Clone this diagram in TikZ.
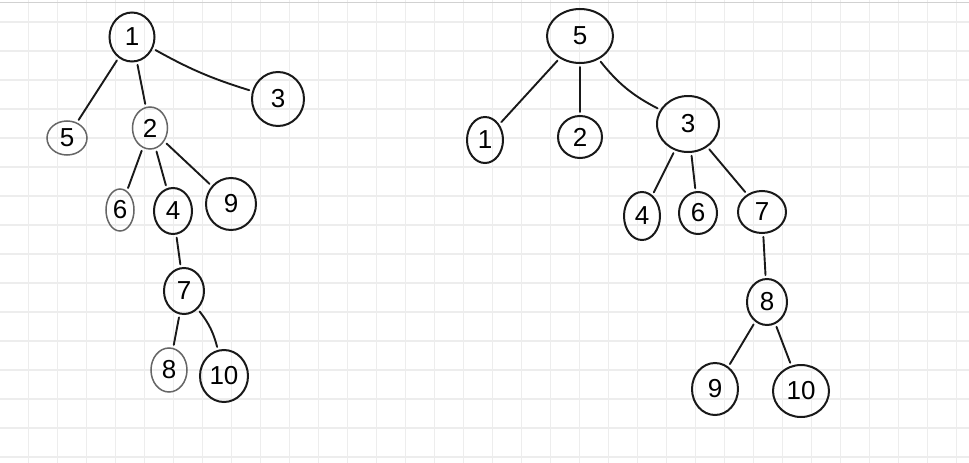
\documentclass[tikz,border=0pt]{standalone}
\usepackage{fontspec}
\setmainfont{Liberation Sans}
\usetikzlibrary{shapes.geometric}
\begin{document}
\begin{tikzpicture}[x=1pt,y=-1pt,
  vtx/.style 2 args={ellipse, draw=black!90, line width=2pt,
    minimum width=#1pt, minimum height=#2pt, inner sep=0pt,
    font=\fontsize{26}{26}\selectfont},
  soft/.style={draw=black!60, line width=1.5pt},
  link/.style={line width=1.9pt, draw=black!90, line cap=round,
    shorten <=3pt, shorten >=3pt},
  gridline/.style={draw=black!7, line width=1.6pt}]
% paper with a square grid
\fill[white] (0,0) rectangle (969,463);
\useasboundingbox (0,0) rectangle (969,463);
\foreach \i in {1,...,33} \draw[gridline] (29*\i-0.5,0) -- (29*\i-0.5,463);
\foreach \j in {0,...,15} \draw[gridline] (0,22+29*\j) -- (969,22+29*\j);
\draw[draw=black!18, line width=1pt] (0,2) -- (969,2);

% first tree
\node[vtx={45}{49}] (a1) at (132,37) {1};
\node[vtx={40}{34}, soft] (a5) at (67,138) {5};
\node[vtx={35}{42}, soft] (a2) at (150,128) {2};
\node[vtx={52}{54}] (a3) at (278,99) {3};
\node[vtx={28}{42}, soft] (a6) at (120,210) {6};
\node[vtx={38}{46}] (a4) at (173,211) {4};
\node[vtx={50}{52}] (a9) at (231,204) {9};
\node[vtx={40}{46}] (a7) at (184,291) {7};
\node[vtx={36}{44}, soft] (a8) at (169,370) {8};
\node[vtx={48}{52}] (a10) at (224,376) {10};

\draw[link] (a1) -- (a5);
\draw[link] (a1) -- (a2);
\draw[link] (a1) to[bend right=6] (a3);
\draw[link] (a2) -- (a6);
\draw[link] (a2) -- (a4);
\draw[link] (a2) -- (a9);
\draw[link] (a4) -- (a7);
\draw[link] (a7) -- (a8);
\draw[link] (a7) to[bend left=12] (a10);

% second tree
\node[vtx={66}{54}] (b5) at (580,36) {5};
\node[vtx={36}{46}] (b1) at (485,140) {1};
\node[vtx={44}{42}] (b2) at (580,137) {2};
\node[vtx={62}{56}] (b3) at (688,124) {3};
\node[vtx={36}{48}] (b4) at (642,216) {4};
\node[vtx={38}{42}] (b6) at (698,213) {6};
\node[vtx={48}{42}] (b7) at (762,212) {7};
\node[vtx={40}{46}] (b8) at (767,302) {8};
\node[vtx={46}{52}] (b9) at (715,389) {9};
\node[vtx={56}{52}] (b10) at (801,391) {10};

\draw[link] (b5) -- (b1);
\draw[link] (b5) -- (b2);
\draw[link] (b5) to[bend right=12] (b3);
\draw[link] (b3) -- (b4);
\draw[link] (b3) -- (b6);
\draw[link] (b3) -- (b7);
\draw[link] (b7) -- (b8);
\draw[link] (b8) -- (b9);
\draw[link] (b8) -- (b10);
\end{tikzpicture}
\end{document}
